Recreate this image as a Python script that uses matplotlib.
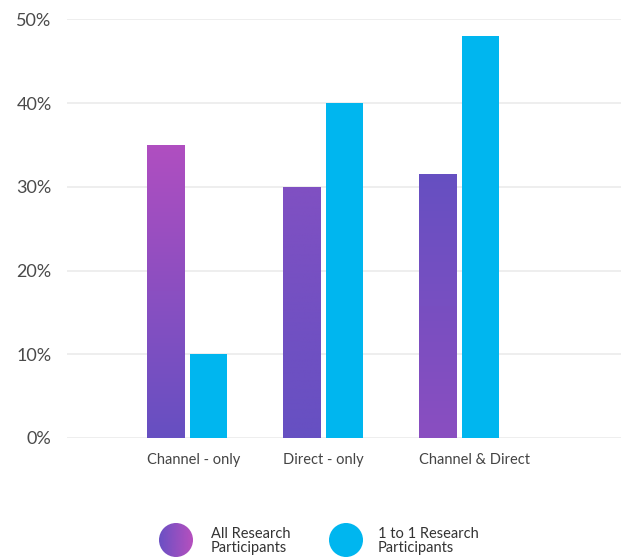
import numpy as np
import matplotlib
matplotlib.use("Agg")
import matplotlib.pyplot as plt
from matplotlib.patches import Circle
from matplotlib.colors import LinearSegmentedColormap

categories = ["Channel - only", "Direct - only", "Channel & Direct"]
all_participants = [35, 30, 31.5]
one_to_one = [10, 40, 48]
yticks = [0, 10, 20, 30, 40, 50]
series_names = ["All Research\nParticipants", "1 to 1 Research\nParticipants"]

BLUE = "#00B6EF"
# gradient (top, bottom) per purple bar
grad = [("#B04EC0", "#6650C2"), ("#8050C2", "#6650C2"), ("#6650C2", "#8A4EC0")]

plt.rcParams['font.family'] = ['Lato', 'DejaVu Sans']

fig = plt.figure(figsize=(6.21, 5.58), dpi=100)
ax = fig.add_axes([67/621, (558-438)/558, (621-67)/621, (438-19.3)/558])

x = np.arange(len(categories))
w = 37/136
off = 0.158

ax.set_xlim(-0.882, 3.19)
ax.set_ylim(0, 50)
ax.set_yticks(yticks)
ax.set_yticklabels([f"{t}%" for t in yticks])
ax.yaxis.grid(True, color="#EEEEEE", linewidth=1.4)
ax.set_axisbelow(True)
for s in ax.spines.values():
    s.set_visible(False)
ax.tick_params(axis='both', length=0)
ax.tick_params(axis='y', labelsize=13, labelcolor="#4a4a4a", pad=11)
ax.tick_params(axis='x', labelsize=10.5, labelcolor="#444444", pad=11)

bars = ax.bar(x - off, all_participants, width=w, color="none", edgecolor="none")
for b, (ct, cb) in zip(bars, grad):
    cmap = LinearSegmentedColormap.from_list("g", [cb, ct])
    x0, y0 = b.get_x(), b.get_y()
    im = ax.imshow(np.linspace(0, 1, 256).reshape(-1, 1), cmap=cmap, origin='lower',
                   extent=[x0, x0 + b.get_width(), y0, y0 + b.get_height()],
                   aspect='auto', zorder=2)
    im.set_clip_path(b)
ax.bar(x + off, one_to_one, width=w, color=BLUE, zorder=2)
ax.set_xlim(-0.882, 3.19)
ax.set_ylim(0, 50)

ax.set_xticks(x - off - w/2)
ax.set_xticklabels(categories, ha='left')

# legend
lax = fig.add_axes([0, 0, 1, 80/558])
lax.set_xlim(0, 621)
lax.set_ylim(80, 0)
lax.axis('off')
c1 = Circle((176, 62), 17, facecolor="none", edgecolor="none")
lax.add_patch(c1)
gcm = LinearSegmentedColormap.from_list("lg", ["#6A50C4", "#B650BE"])
im = lax.imshow(np.linspace(0, 1, 256).reshape(1, -1), cmap=gcm,
                extent=[159, 193, 79, 45], aspect='auto')
im.set_clip_path(c1)
lax.add_patch(Circle((346, 62), 17, facecolor=BLUE, edgecolor="none"))
lax.set_xlim(0, 621)
lax.set_ylim(80, 0)
lax.text(211, 63, series_names[0], fontsize=10.5, color="#333333", va='center', ha='left', linespacing=1.05)
lax.text(378, 63, series_names[1], fontsize=10.5, color="#333333", va='center', ha='left', linespacing=1.05)

fig.savefig("out.png", dpi=100)
